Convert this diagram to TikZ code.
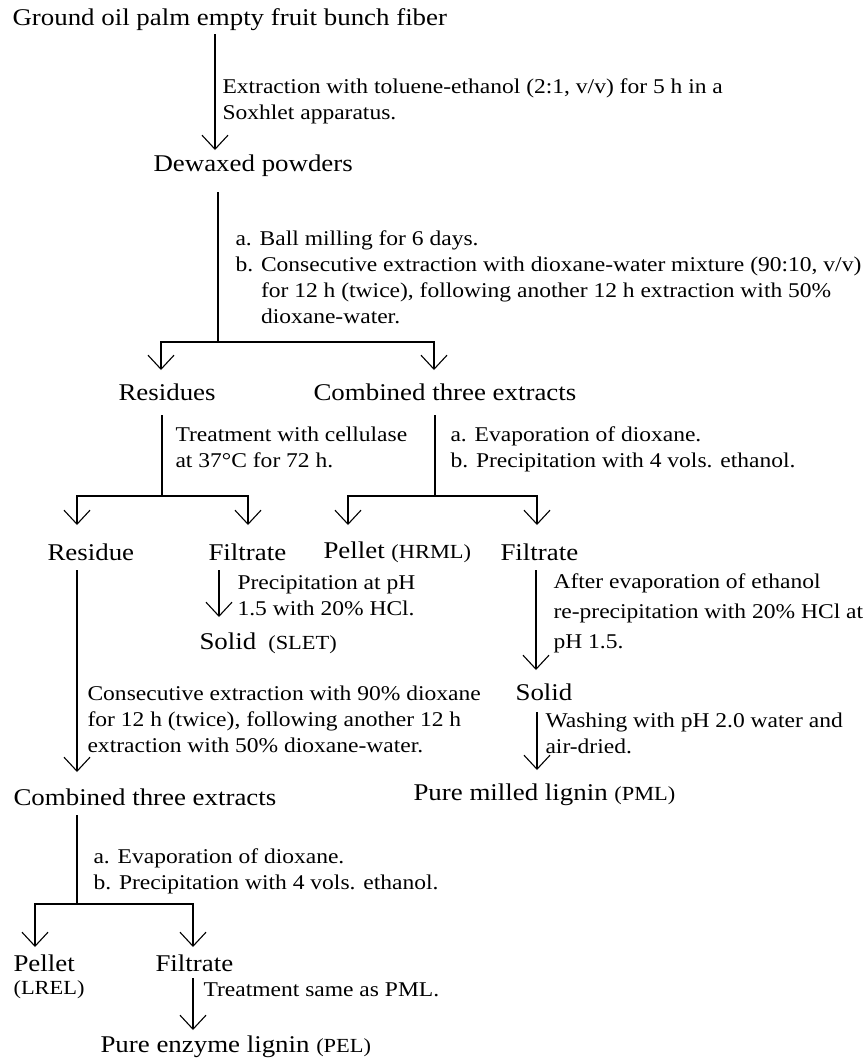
\documentclass[tikz,border=0pt]{standalone}
\usepackage{fontspec}
\setmainfont{Liberation Serif}[FakeStretch=1.12]
\usetikzlibrary{arrows.meta}

\newcommand{\abbrv}[1]{{\fontsize{20}{24}\selectfont #1}}

\tikzset{
  lbl/.style={inner sep=0pt, anchor=west, font=\fontsize{24}{28}\selectfont},
  note/.style={inner sep=0pt, anchor=north west, align=left, font=\fontsize{21}{26}\selectfont},
  flow/.style={-{Straight Barb[length=14pt,width=26pt]}}
}

\begin{document}
\begin{tikzpicture}[x=1pt,y=-1pt,line width=1.1pt]
\useasboundingbox (0,0) rectangle (868,1061);

% Materials and fractions
\node[lbl] (fiber) at (12,20) {Ground oil palm empty fruit bunch fiber};
\node[lbl] (dewax) at (153,166) {Dewaxed powders};
\node[lbl] (res) at (118,392) {Residues};
\node[lbl] (comb) at (313,392) {Combined three extracts};
\node[lbl] (residue) at (47,552) {Residue};
\node[lbl] (filtA) at (208,552) {Filtrate};
\node[lbl] (hrml) at (323,552) {Pellet \abbrv{(HRML)}};
\node[lbl] (filtB) at (500,552) {Filtrate};
\node[lbl] (slet) at (199,643) {Solid\enskip\abbrv{(SLET)}};
\node[lbl] (solid) at (515,692) {Solid};
\node[lbl] (pml) at (413,795) {Pure milled lignin \abbrv{(PML)}};
\node[lbl] (comb2) at (13,797) {Combined three extracts};
\node[lbl] (lrel) at (13,963) {Pellet};
\node[font=\fontsize{20}{24}\selectfont, inner sep=0pt, anchor=west] (lrelab) at (13,990) {(LREL)};
\node[lbl] (filtC) at (155,963) {Filtrate};
\node[lbl] (pel) at (100,1047) {Pure enzyme lignin \abbrv{(PEL)}};

% Treatments
\node[note] (t1) at (222,78) {Extraction with toluene-ethanol (2:1, v/v) for 5 h in a\\Soxhlet apparatus.};
\node[note] (t2) at (235,230) {a. Ball milling for 6 days.\\b. Consecutive extraction with dioxane-water mixture (90:10, v/v)\\\phantom{b. }for 12 h (twice), following another 12 h extraction with 50\%\\\phantom{b. }dioxane-water.};
\node[note] (t3) at (175,426) {Treatment with cellulase\\at 37°C for 72 h.};
\node[note] (t4) at (450,426) {a. Evaporation of dioxane.\\b. Precipitation with 4 vols. ethanol.};
\node[note] (t5) at (237,575) {Precipitation at pH\\1.5 with 20\% HCl.};
\node[note] (t6) at (87,685) {Consecutive extraction with 90\% dioxane\\for 12 h (twice), following another 12 h\\extraction with 50\% dioxane-water.};
\node[note, font=\fontsize{21}{30}\selectfont] (t7) at (553,573) {After evaporation of ethanol\\re-precipitation with 20\% HCl at\\pH 1.5.};
\node[note] (t8) at (545,712) {Washing with pH 2.0 water and\\air-dried.};
\node[note] (t9) at (93,848) {a. Evaporation of dioxane.\\b. Precipitation with 4 vols. ethanol.};
\node[note] (t10) at (203,982) {Treatment same as PML.};

% Connector points
\coordinate (a1) at (215,34);   \coordinate (e1) at (215,150);
\coordinate (a2) at (218,192);  \coordinate (m2) at (218,342);
\coordinate (l2) at (161,342);  \coordinate (r2) at (434,342);
\coordinate (a3) at (162,415);  \coordinate (l3) at (77,496);  \coordinate (r3) at (248,496);
\coordinate (a4) at (435,415);  \coordinate (l4) at (348,496); \coordinate (r4) at (537,496);
\coordinate (a5) at (219,570);  \coordinate (e5) at (219,617);
\coordinate (a6) at (77,570);   \coordinate (e6) at (77,772);
\coordinate (a7) at (536,570);  \coordinate (e7) at (536,670);
\coordinate (a8) at (537,712);  \coordinate (e8) at (537,770);
\coordinate (a9) at (77,815);   \coordinate (l9) at (35,904);  \coordinate (r9) at (193,904);
\coordinate (a10) at (193,978); \coordinate (e10) at (193,1030);

% Connectors
\draw[flow] (a1) -- (e1);
\draw[flow] (a2) |- (l2) -- ++(0,28);
\draw[flow] (l2) -| ([yshift=-28pt]r2);
\draw[flow] (a3) |- (l3) -- ++(0,29);
\draw[flow] (l3) -| ([yshift=-29pt]r3);
\draw[flow] (a4) |- (l4) -- ++(0,29);
\draw[flow] (l4) -| ([yshift=-29pt]r4);
\draw[flow] (a5) -- (e5);
\draw[flow] (a6) -- (e6);
\draw[flow] (a7) -- (e7);
\draw[flow] (a8) -- (e8);
\draw[flow] (a9) |- (l9) -- ++(0,43);
\draw[flow] (l9) -| ([yshift=-43pt]r9);
\draw[flow] (a10) -- (e10);

\end{tikzpicture}
\end{document}
